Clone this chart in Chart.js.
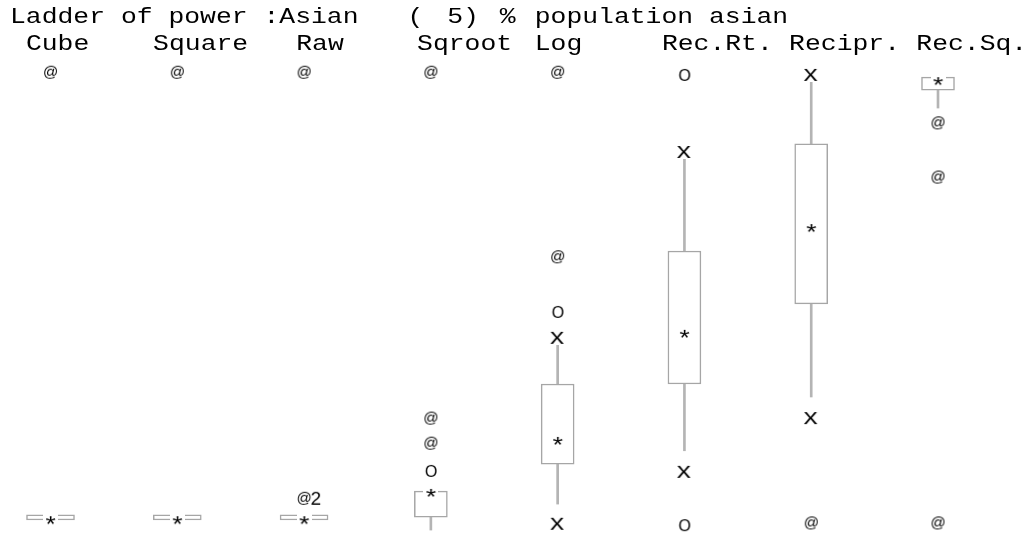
<!DOCTYPE html>
<html>
<head>
<meta charset="utf-8">
<script src="https://cdn.jsdelivr.net/npm/chart.js@4/dist/chart.umd.min.js"></script>
<style>
  body { margin: 0; background: #fff; }
  canvas { display: block; }
</style>
</head>
<body>
<canvas id="ladder" width="1032" height="537"></canvas>
<script>
// ladder of powers for % population asian, each column scaled 0..100 (bottom..top)
const columns = ['Cube', 'Square', 'Raw', 'Sqroot', 'Log', 'Rec.Rt.', 'Recipr.', 'Rec.Sq.'];
const boxLow = [0.45, 0.45, 0.45, 1.1, 12.9, 30.8, 48.7, 96.4];
const boxHigh = [1.6, 1.6, 1.6, 6.9, 30.8, 60.5, 84.4, 99.3];
const medians = [0.4, 0.4, 0.4, 6.5, 18.1, 42.0, 65.6, 98.4];
const upperWhisker = [null, null, null, null, 39.5, 81.3, 98.7, null];
const lowerWhisker = [null, null, null, -1.8, 4.0, 15.9, 27.9, 92.4];

// outside values: [column, value]
const atMarks = [[0, 100.4], [1, 100.4], [2, 100.4], [3, 100.4], [3, 23.2], [3, 17.6],
  [4, 100.4], [4, 59.2], [6, -0.2], [7, 89.1], [7, 77.0], [7, -0.2]];
const oMarks = [[3, 11.4], [4, 46.9], [5, 99.8], [5, -0.7]];
const xMarks = [[4, 41.1], [4, -0.4], [5, 82.6], [5, 11.2], [6, 99.8], [6, 23.2]];
const at2Marks = [[2, 5.4]];

// title pieces and their character cells
const titleParts = [['Ladder of power :Asian', 0], ['(', 25], ['5)', 27.5], ['%', 30.8], ['population asian', 33]];
const headerCells = [1, 9, 18, 25.6, 33, 41, 49, 57];

function glyph(text, font, w, h, sx, bg) {
  const c = document.createElement('canvas');
  c.width = w; c.height = h;
  const g = c.getContext('2d');
  if (bg) { g.fillStyle = '#fff'; g.fillRect(0, 0, w, h); }
  g.font = font;
  g.fillStyle = '#000';
  const m = g.measureText(text);
  const tw = m.actualBoundingBoxRight + m.actualBoundingBoxLeft;
  g.translate(w / 2, h / 2);
  g.scale(sx, 1);
  g.fillText(text, -tw / 2 + m.actualBoundingBoxLeft,
    (m.actualBoundingBoxAscent - m.actualBoundingBoxDescent) / 2);
  return c;
}

function at2Glyph() {
  const c = document.createElement('canvas');
  c.width = 52; c.height = 18;
  const g = c.getContext('2d');
  g.fillStyle = '#000';
  g.font = '15px "Liberation Sans"';
  const m = g.measureText('@');
  g.fillText('@', 26 - m.width / 2, 9 + (m.actualBoundingBoxAscent - m.actualBoundingBoxDescent) / 2);
  g.font = '19px "Liberation Sans"';
  g.fillText('2', 26 + m.width / 2 - 1, 16);
  return c;
}

const atGlyph = glyph('@', '15px "Liberation Sans"', 17, 17, 1, false);
const oGlyph = glyph('O', '16px "Liberation Sans"', 14, 14, 1, false);
const xGlyph = glyph('x', '22px "Liberation Mono"', 18, 14, 1.2, true);
const starGlyph = glyph('*', '22px "Liberation Mono"', 15, 12, 1.2, true);

const toPts = arr => arr.map(([c, v]) => ({ x: columns[c], y: v }));
const isFlat = i => boxHigh[i] - boxLow[i] < 2;

const whiskers = [];
columns.forEach((c, i) => {
  if (upperWhisker[i] !== null) whiskers.push({ x: c, y: [boxHigh[i], upperWhisker[i]] });
  if (lowerWhisker[i] !== null) whiskers.push({ x: c, y: [lowerWhisker[i], boxLow[i]] });
});
const boxes = columns.map((c, i) => ({ x: c, y: [boxLow[i], boxHigh[i]], flat: isFlat(i) }));

const boxStyle = {
  type: 'bar', backgroundColor: '#fff', borderColor: '#a6a6a6', borderWidth: 1.5,
  borderSkipped: false, grouped: false, clip: false, order: 3
};

const symbolSet = (pts, style, order) => ({
  type: 'line', data: pts, showLine: false, pointStyle: style,
  pointRadius: 8, clip: false, order: order
});

const ladderText = {
  id: 'ladderText',
  afterDraw(chart) {
    const ctx = chart.ctx;
    const sx = 1.2, cell = 15.9;
    ctx.save();
    ctx.font = '22px "Liberation Mono"';
    ctx.fillStyle = '#000';
    ctx.scale(sx, 1);
    titleParts.forEach(([t, k]) => ctx.fillText(t, (10 + k * cell) / sx, 23));
    columns.forEach((c, i) => ctx.fillText(c, (10 + headerCells[i] * cell) / sx, 50));
    ctx.restore();
  }
};

new Chart(document.getElementById('ladder'), {
  type: 'bar',
  data: {
    labels: columns,
    datasets: [
      { type: 'bar', data: whiskers, backgroundColor: '#b4b4b4', barThickness: 2,
        grouped: false, clip: false, order: 4 },
      Object.assign({ data: boxes.filter(b => !b.flat), barThickness: 33 }, boxStyle),
      Object.assign({ data: boxes.filter(b => b.flat), barThickness: 48 }, boxStyle),
      symbolSet(columns.map((c, i) => ({ x: c, y: medians[i] })), starGlyph, 1),
      symbolSet(toPts(atMarks), atGlyph, 0),
      symbolSet(toPts(oMarks), oGlyph, 0),
      symbolSet(toPts(xMarks), xGlyph, 0),
      symbolSet(toPts(at2Marks), at2Glyph(), 0)
    ]
  },
  options: {
    responsive: false,
    animation: false,
    layout: { padding: { left: 50.5, right: 94, top: 74, bottom: 15 } },
    scales: {
      x: { type: 'category', offset: false, display: false },
      y: { min: 0, max: 100, display: false }
    },
    plugins: { legend: { display: false }, tooltip: { enabled: false } }
  },
  plugins: [ladderText]
});
</script>
</body>
</html>
